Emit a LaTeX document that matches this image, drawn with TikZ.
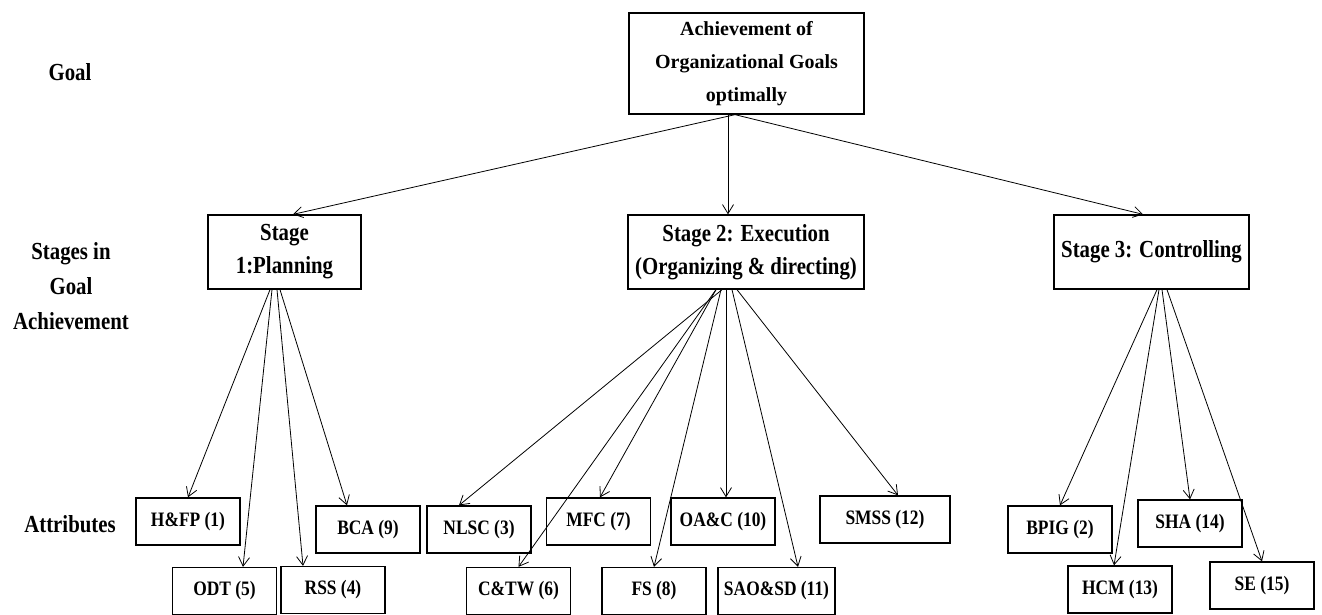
\documentclass[tikz,border=0pt]{standalone}
\usepackage{fontspec}
\setmainfont{Liberation Serif}[FakeStretch=0.85]
\newfontfamily\topfont{Liberation Serif}
\usetikzlibrary{arrows.meta}
\begin{document}
\begin{tikzpicture}[x=1pt,y=-1pt,
  box/.style={draw, line width=1.3pt, inner sep=0pt, align=center, font=\bfseries\fontsize{24.5}{33}\selectfont},
  abox/.style={draw, line width=1.3pt, inner sep=0pt, minimum width=104pt, minimum height=47pt, font=\bfseries\fontsize{20.5}{24}\selectfont},
  lab/.style={inner sep=0pt, align=center, font=\bfseries\fontsize{24.5}{35}\selectfont},
  arr/.style={-{Straight Barb[length=9pt,width=11pt]}, line width=0.8pt}]
\useasboundingbox (0,0) rectangle (1322,614);

% labels
\node[lab] (lgoal) at (70,72) {Goal};
\node[lab] (lstage) at (71,286) {Stages in\\Goal\\Achievement};
\node[lab] (lattr) at (70,524) {Attributes};

% goal
\node[box, font=\topfont\bfseries\fontsize{20}{33}\selectfont, minimum width=235pt, minimum height=101pt] (goal) at (746.5,63.5) {Achievement of\\Organizational Goals\\optimally};

% stages
\node[box, minimum width=153pt, minimum height=74pt] (s1) at (284.5,252) {Stage\\1:Planning};
\node[box, minimum width=236pt, minimum height=74pt] (s2) at (746,252) {Stage 2: Execution\\(Organizing \& directing)};
\node[box, minimum width=195pt, minimum height=74pt] (s3) at (1151.5,252) {Stage 3: Controlling};

% attributes
\node[abox] (hfp) at (188,521.5) {H\&FP (1)};
\node[abox] (odt) at (224.5,591) {ODT (5)};
\node[abox] (rss) at (333,590) {RSS (4)};
\node[abox] (bca) at (368,529.5) {BCA (9)};
\node[abox] (nlsc) at (479,529.5) {NLSC (3)};
\node[abox] (ctw) at (518.5,591) {C\&TW (6)};
\node[abox] (mfc) at (598.5,521.5) {MFC (7)};
\node[abox] (fs) at (654,591) {FS (8)};
\node[abox] (oac) at (723,521.5) {OA\&C (10)};
\node[abox, minimum width=117pt] (sao) at (776.5,591) {SAO\&SD (11)};
\node[abox, minimum width=130pt] (smss) at (885,519.5) {SMSS (12)};
\node[abox] (bpig) at (1060,529.5) {BPIG (2)};
\node[abox] (hcm) at (1120,589.5) {HCM (13)};
\node[abox] (sha) at (1190,523.5) {SHA (14)};
\node[abox] (se) at (1262,585.5) {SE (15)};

% goal -> stages
\draw[arr] ([xshift=-11.5pt]goal.south) -- ([xshift=8.5pt]s1.north);
\draw[arr] ([xshift=-18.5pt]goal.south) -- ([xshift=-18pt]s2.north);
\draw[arr] ([xshift=-11.5pt]goal.south) -- ([xshift=-8.5pt]s3.north);

% stage 1
\draw[arr] ([xshift=-14.5pt]s1.south) -- (hfp.north);
\draw[arr] ([xshift=-12.5pt]s1.south) -- ([xshift=18.5pt]odt.north);
\draw[arr] ([xshift=-7.5pt]s1.south) -- ([xshift=-30pt]rss.north);
\draw[arr] ([xshift=-4.5pt]s1.south) -- ([xshift=-21pt]bca.north);

% stage 2
\draw[arr] ([xshift=-24pt]s2.south) -- ([xshift=-20pt]nlsc.north);
\draw[arr] ([xshift=-30pt]s2.south) -- (ctw.north);
\draw[arr] ([xshift=-30pt]s2.south) -- ([xshift=1.5pt]mfc.north);
\draw[arr] ([xshift=-25pt]s2.south) -- (fs.north);
\draw[arr] ([xshift=-20pt]s2.south) -- ([xshift=3pt]oac.north);
\draw[arr] ([xshift=-14pt]s2.south) -- ([xshift=21.5pt]sao.north);
\draw[arr] ([xshift=-9pt]s2.south) -- ([xshift=13pt]smss.north);

% stage 3
\draw[arr] ([xshift=5.5pt]s3.south) -- (bpig.north);
\draw[arr] ([xshift=7.5pt]s3.south) -- ([xshift=-6pt]hcm.north);
\draw[arr] ([xshift=10.5pt]s3.south) -- (sha.north);
\draw[arr] ([xshift=15.5pt]s3.south) -- (se.north);
\end{tikzpicture}
\end{document}
